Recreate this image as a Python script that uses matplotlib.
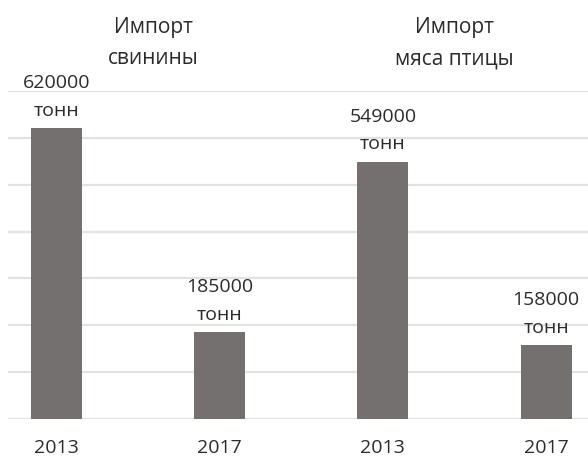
import matplotlib.pyplot as plt

plt.rcParams['font.family'] = ['Open Sans', 'DejaVu Sans']

# Import volumes, tonnes
years = ['2013', '2017', '2013', '2017']
volumes = [620000, 185000, 549000, 158000]
unit = 'тонн'
group_titles = [('Импорт', 'свинины'), ('Импорт', 'мяса птицы')]

bar_color = '#757070'
grid_color = '#e2e2e2'
text_color = '#2b2b2b'

fig = plt.figure(figsize=(5.88, 4.57), dpi=100)
ax = fig.add_axes([0.0136, 0.0832, 0.9864, 0.7177])

x = range(len(volumes))
ax.bar(x, volumes, width=0.312, color=bar_color, zorder=2)

ax.set_xlim(-0.297, 3.257)
ax.set_ylim(0, 700000)
ax.set_yticks(range(0, 700001, 100000))
ax.yaxis.grid(True, color=grid_color, linewidth=1.6, zorder=0)
ax.set_yticklabels([])
ax.tick_params(axis='y', length=0)

ax.set_xticks(list(x))
ax.set_xticklabels(years, fontsize=14, color=text_color)
ax.tick_params(axis='x', length=0, pad=14.5)

for s in ax.spines.values():
    s.set_visible(False)

# value labels: number on top, unit below it
for xi, v in zip(x, volumes):
    ax.annotate(f'{v}', (xi, v), xytext=(0, 32.5), textcoords='offset points',
                ha='center', va='center', fontsize=14, color=text_color)
    ax.annotate(unit, (xi, v), xytext=(0, 12.5), textcoords='offset points',
                ha='center', va='center', fontsize=14, color=text_color)

# group headings above the plot
for (line1, line2), xc in zip(group_titles, [0.25, 0.77]):
    ax.text(xc, 1.195, line1, transform=ax.transAxes, ha='center', va='center',
            fontsize=15, color=text_color)
    ax.text(xc, 1.098, line2, transform=ax.transAxes, ha='center', va='center',
            fontsize=15, color=text_color)

fig.savefig('out.png', dpi=100)
